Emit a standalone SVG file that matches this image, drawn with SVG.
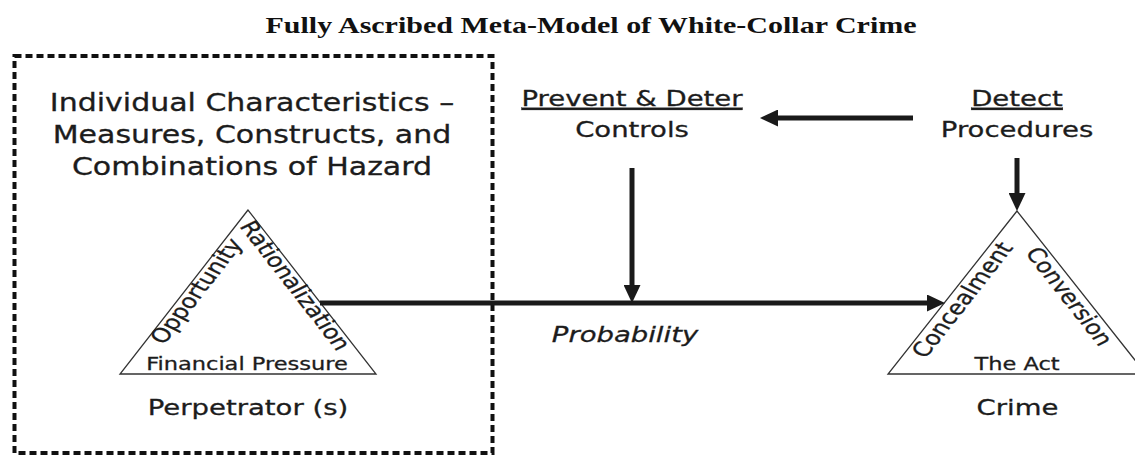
<svg xmlns="http://www.w3.org/2000/svg" width="1135" height="457" viewBox="0 0 1135 457">
<style>
.t{font-family:"DejaVu Sans","Verdana",sans-serif;fill:#1c1c1c;stroke:#1c1c1c;stroke-width:0.3;text-anchor:middle}
.title{font-family:"Liberation Serif","Times New Roman",serif;font-weight:bold;font-size:24px;fill:#111;text-anchor:middle}
.tri{fill:#fff;stroke:#333;stroke-width:1.3}
.arr{stroke:#1a1a1a;stroke-width:5;fill:none}
.u{text-decoration:underline}
</style>
<defs>
<marker id="ah" markerUnits="userSpaceOnUse" markerWidth="18" markerHeight="17" refX="2" refY="8.5" orient="auto">
<path d="M0,0 L18,8.5 L0,17 z" fill="#1a1a1a"/>
</marker>
</defs>
<rect width="1135" height="457" fill="#fff"/>
<text class="title" transform="translate(591,33) scale(1.25,1)">Fully Ascribed Meta-Model of White-Collar Crime</text>

<g id="individual-characteristics">
<rect x="14.5" y="56" width="478" height="397" fill="none" stroke="#111" stroke-width="4" stroke-dasharray="7 4"/>
<text class="t" font-size="24" transform="translate(252,111) scale(1.25,1)">Individual Characteristics –</text>
<text class="t" font-size="24" transform="translate(252,143) scale(1.25,1)">Measures, Constructs, and</text>
<text class="t" font-size="24" transform="translate(252,175) scale(1.25,1)">Combinations of Hazard</text>
</g>

<g id="perpetrator">
<polygon class="tri" points="248,210 120,374 376,374"/>
<text class="t" font-size="18" transform="translate(247,370) scale(1.25,1)">Financial Pressure</text>
<text class="t" font-size="20" transform="translate(203.5,294.7) scale(1.25,1) rotate(-58)">Opportunity</text>
<text class="t" font-size="20" transform="translate(288.1,289.1) scale(1.25,1) rotate(58)">Rationalization</text>
<text class="t" font-size="22" transform="translate(248,415) scale(1.25,1)">Perpetrator (s)</text>
</g>

<g id="prevent-deter">
<text class="t" font-size="22" transform="translate(632,106) scale(1.25,1)"><tspan class="u">Prevent &amp; Deter</tspan></text>
<text class="t" font-size="22" transform="translate(632,137) scale(1.25,1)">Controls</text>
</g>

<g id="detect">
<text class="t" font-size="22" transform="translate(1017,106) scale(1.25,1)"><tspan class="u">Detect</tspan></text>
<text class="t" font-size="22" transform="translate(1017,137) scale(1.25,1)">Procedures</text>
</g>

<g id="crime">
<polygon class="tri" points="1017,211 888,374 1146,374"/>
<text class="t" font-size="18" transform="translate(1017,370) scale(1.25,1)">The Act</text>
<text class="t" font-size="20" transform="translate(969.5,303.4) scale(1.25,1) rotate(-57.7)">Concealment</text>
<text class="t" font-size="20" transform="translate(1062.1,300.2) scale(1.25,1) rotate(57.7)">Conversion</text>
<text class="t" font-size="22" transform="translate(1017.5,415) scale(1.25,1)">Crime</text>
</g>

<g id="connectors">
<line class="arr" x1="913" y1="118" x2="776" y2="118" marker-end="url(#ah)"/>
<line class="arr" x1="632" y1="168" x2="632" y2="287" marker-end="url(#ah)"/>
<line class="arr" x1="1017" y1="158" x2="1017" y2="195" marker-end="url(#ah)"/>
<line class="arr" x1="320" y1="303" x2="929" y2="303" marker-end="url(#ah)"/>
<text class="t" font-size="22" font-style="italic" transform="translate(625,342) scale(1.25,1)">Probability</text>
</g>
</svg>
